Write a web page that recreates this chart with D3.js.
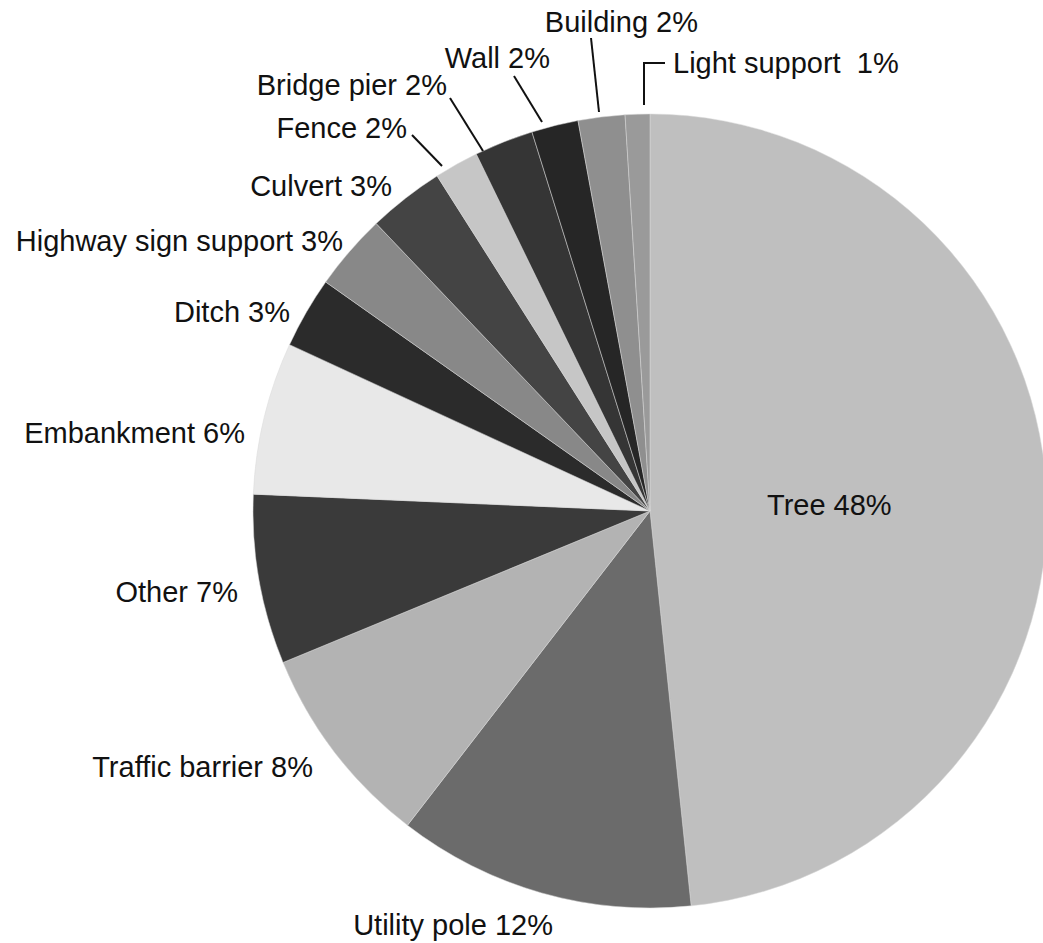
<!DOCTYPE html>
<html>
<head>
<meta charset="utf-8">
<script src="https://cdn.jsdelivr.net/npm/d3@7"></script>
<style>
  html, body { margin: 0; padding: 0; background: #fff; }
  svg { display: block; }
  text { font-family: "Liberation Sans", Arial, sans-serif; font-size: 29px; fill: #111; }
</style>
</head>
<body>
<svg id="chart" width="1043" height="943"></svg>
<script>
// ---- Data ----
const categories = ["Tree", "Utility pole", "Traffic barrier", "Other", "Embankment", "Ditch",
  "Highway sign support", "Culvert", "Fence", "Bridge pier", "Wall", "Building", "Light support"];
const shares = [48.3, 12.1, 8.3, 6.9, 6.2, 2.9, 3.1, 3.1, 1.8, 2.4, 1.9, 1.9, 1.0];
const labelTexts = ["Tree 48%", "Utility pole 12%", "Traffic barrier 8%", "Other 7%", "Embankment 6%",
  "Ditch 3%", "Highway sign support 3%", "Culvert 3%", "Fence 2%", "Bridge pier 2%", "Wall 2%",
  "Building 2%", "Light support\u00a0 1%"];
const colors = ["#bfbfbf", "#6b6b6b", "#b3b3b3", "#3a3a3a", "#e8e8e8", "#2b2b2b",
  "#888888", "#444444", "#c6c6c6", "#353535", "#262626", "#8f8f8f", "#9a9a9a"];

// ---- Layout ----
const cx = 650, cy = 511, R = 397;
const labelPos = [
  {x: 767, y: 515, a: "start"},
  {x: 553, y: 935, a: "end"},
  {x: 313, y: 777, a: "end"},
  {x: 238, y: 602, a: "end"},
  {x: 245, y: 443, a: "end"},
  {x: 290, y: 322, a: "end"},
  {x: 343, y: 251, a: "end"},
  {x: 392, y: 196, a: "end"},
  {x: 407, y: 138, a: "end"},
  {x: 447, y: 95, a: "end"},
  {x: 550, y: 68, a: "end"},
  {x: 698, y: 32, a: "end"},
  {x: 673, y: 73, a: "start"}
];
const leaders = {
  8: [[412, 135], [442, 166]],
  9: [[450, 98], [483, 151]],
  10: [[514, 76], [542, 122]],
  11: [[591, 38], [599, 112]],
  12: [[665, 63], [644, 63], [644, 105]]
};

const svg = d3.select("#chart");
const g = svg.append("g").attr("transform", `translate(${cx},${cy})`);

const pie = d3.pie().sort(null).value(d => d).startAngle(0).endAngle(2 * Math.PI);
const arc = d3.arc().innerRadius(0).outerRadius(R);
const color = d3.scaleOrdinal().domain(categories).range(colors);

const arcs = pie(shares);
g.selectAll("path.slice")
  .data(arcs)
  .join("path")
  .attr("class", "slice")
  .attr("d", arc)
  .attr("fill", (d, i) => color(categories[i]))
  .attr("stroke", "#d8d8d8")
  .attr("stroke-width", 0.5);

const line = d3.line();
Object.entries(leaders).forEach(([i, pts]) => {
  svg.append("path")
    .attr("d", line(pts))
    .attr("fill", "none")
    .attr("stroke", "#111")
    .attr("stroke-width", 2);
});

svg.selectAll("text.lbl")
  .data(labelTexts)
  .join("text")
  .attr("class", "lbl")
  .attr("x", (d, i) => labelPos[i].x)
  .attr("y", (d, i) => labelPos[i].y)
  .attr("text-anchor", (d, i) => labelPos[i].a)
  .text(d => d);
</script>
</body>
</html>
